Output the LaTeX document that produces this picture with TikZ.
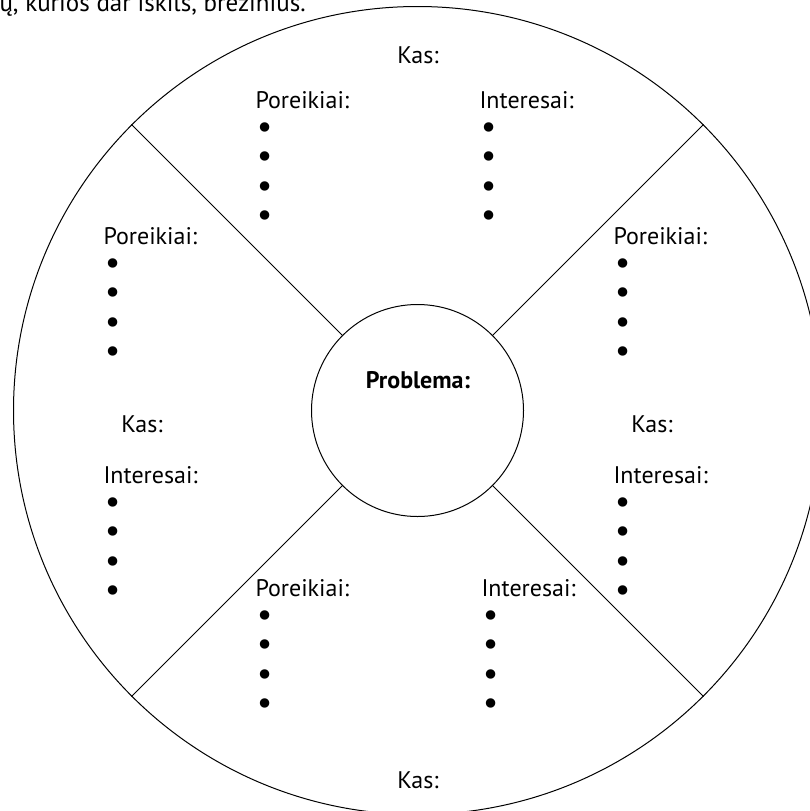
\documentclass[tikz,border=0pt]{standalone}
\usepackage{fontspec}
\setmainfont{PT Sans}
\newfontfamily\dotfont{DejaVu Sans}
\newcommand{\blt}{\raisebox{-1.5pt}{\scalebox{1.35}{\dotfont •}}}
\usetikzlibrary{positioning}

\begin{document}
\begin{tikzpicture}[
    x=1pt, y=-1pt,
    line width=1pt,
    ring/.style={draw, circle, inner sep=0pt},
    block/.style={align=left, inner sep=0pt, anchor=base west, font=\fontsize{24}{29.3}\selectfont},
    who/.style={inner sep=0pt, anchor=base, font=\fontsize{24}{29.3}\selectfont}
]
\useasboundingbox (0,0) rectangle (810,811);
\node[inner sep=0pt, anchor=base west, font=\fontsize{25}{30}\selectfont] (runin) at (-1,11) {ų, kurios dar iškils, brėžinius.};
\node[ring, minimum size=808pt] (outer) at (417.5,410.5) {};
\node[ring, minimum size=212pt] (problem) at (417.5,410.5) {};
\foreach \a in {45,135,225,315}
    \draw (problem.\a) -- (outer.\a);
\node[who, font=\fontsize{24}{29.3}\selectfont\bfseries] (ptitle) at (418,388) {Problema:};
% top (blocks sit on the baseline of their last bullet)
\node[who] (kastop) at (418,63) {Kas:};
\node[block] (needtop) at (255,226) {Poreikiai:\\\blt\\\blt\\\blt\\\blt};
\node[block] (inttop) at (479,226) {Interesai:\\\blt\\\blt\\\blt\\\blt};
% left
\node[block] (needleft) at (103,362) {Poreikiai:\\\blt\\\blt\\\blt\\\blt};
\node[who] (kasleft) at (142,432) {Kas:};
\node[block] (intleft) at (103,601) {Interesai:\\\blt\\\blt\\\blt\\\blt};
% right
\node[block] (needright) at (613,362) {Poreikiai:\\\blt\\\blt\\\blt\\\blt};
\node[who] (kasright) at (652,432) {Kas:};
\node[block] (intright) at (613,601) {Interesai:\\\blt\\\blt\\\blt\\\blt};
% bottom
\node[block] (needbottom) at (255,714) {Poreikiai:\\\blt\\\blt\\\blt\\\blt};
\node[block] (intbottom) at (481,714) {Interesai:\\\blt\\\blt\\\blt\\\blt};
\node[who] (kasbottom) at (418,788) {Kas:};
\end{tikzpicture}
\end{document}
